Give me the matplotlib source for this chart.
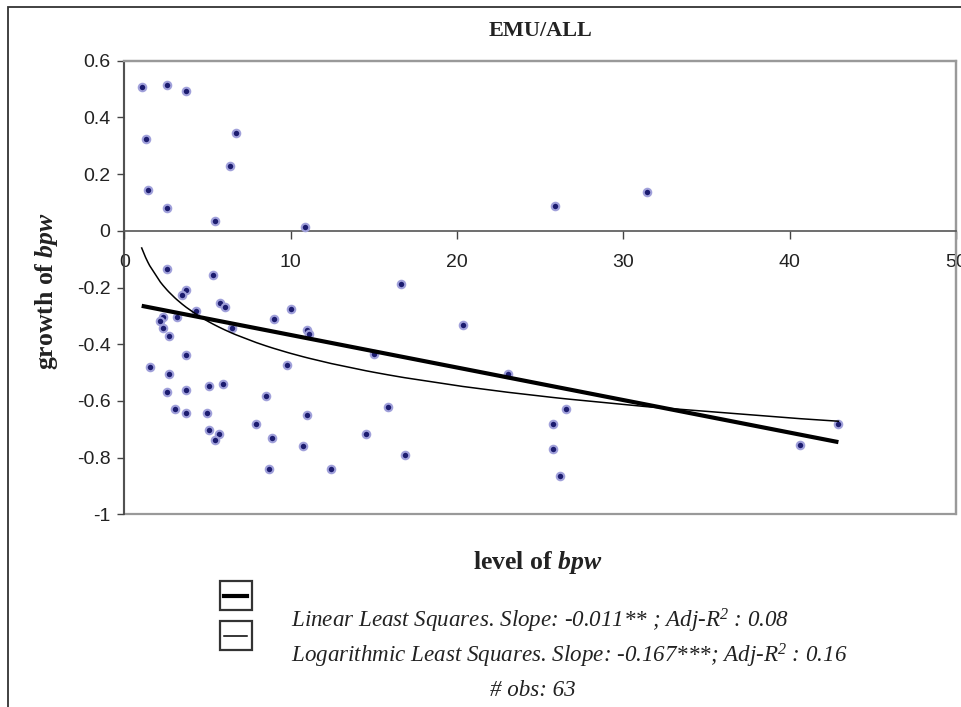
import numpy as np
import matplotlib
matplotlib.use("Agg")
import matplotlib.pyplot as plt
from matplotlib.patches import Rectangle
from matplotlib.lines import Line2D

plt.rcParams['font.family'] = ['Liberation Sans', 'DejaVu Sans']
plt.rcParams['mathtext.fontset'] = 'custom'
plt.rcParams['mathtext.it'] = 'Liberation Serif:italic:bold'
plt.rcParams['mathtext.rm'] = 'Liberation Serif:italic'

# level of bpw (x) and growth of bpw (y)
level = [1.04, 2.56, 3.72, 1.27, 6.71, 6.37, 1.41, 2.56, 5.45, 10.86, 25.86, 31.4,
         2.56, 5.32, 3.72, 3.46, 5.77, 6.03, 4.30, 10.04, 2.32, 2.16, 3.14, 8.98,
         2.32, 6.49, 10.96, 11.1, 2.66, 3.72, 15.01, 1.52, 9.80, 2.66, 5.08, 5.91,
         2.56, 3.72, 8.51, 3.02, 3.72, 4.98, 10.96, 7.93, 14.53, 5.08, 5.67, 5.45,
         8.89, 10.72, 8.68, 12.44, 16.62, 20.33, 23.06, 15.84, 16.86, 26.56, 25.74,
         25.74, 26.2, 40.62, 42.93]
growth = [0.508, 0.514, 0.494, 0.325, 0.345, 0.230, 0.143, 0.082, 0.034, 0.013, 0.088, 0.136,
          -0.135, -0.155, -0.208, -0.228, -0.256, -0.270, -0.283, -0.277, -0.304, -0.317, -0.305, -0.310,
          -0.344, -0.344, -0.351, -0.365, -0.371, -0.439, -0.434, -0.480, -0.474, -0.506, -0.548, -0.541,
          -0.569, -0.562, -0.582, -0.629, -0.643, -0.642, -0.649, -0.683, -0.717, -0.704, -0.717, -0.738,
          -0.731, -0.758, -0.839, -0.839, -0.189, -0.331, -0.506, -0.622, -0.791, -0.629, -0.683,
          -0.771, -0.865, -0.757, -0.683]

title = "EMU/ALL"
legend_lines = ["Linear Least Squares. Slope: -0.011** ; Adj-R$^{2}$ : 0.08",
                "Logarithmic Least Squares. Slope: -0.167***; Adj-R$^{2}$ : 0.16"]
obs_text = "# obs: 63"

W, H = 961, 707
fig = plt.figure(figsize=(W / 100, H / 100), dpi=100)


def fx(px):
    return px / W


def fy(py):
    return 1 - py / H


# outer chart border (runs off the right and bottom of the picture)
fig.add_artist(Rectangle((fx(8), fy(760)), fx(1000), fy(7) - fy(760), transform=fig.transFigure,
                         fill=False, edgecolor='#333333', linewidth=1.3))

ax = fig.add_axes([fx(124.4), fy(514.3), fx(956) - fx(124.4), fy(60.8) - fy(514.3)])
ax.set_xlim(0, 50)
ax.set_ylim(-1, 0.6)

x = np.array(level)
y = np.array(growth)

ax.plot(x, y, linestyle='none', marker='o', ms=5.4, mfc='#1c1c70', mec='#a0a0da', mew=1.5, zorder=3)

# least squares fits
b1, a1 = np.polyfit(x, y, 1)
b2, a2 = np.polyfit(np.log(x), y, 1)
xs = np.sort(np.unique(x))
ax.plot([xs[0], xs[-1]], [a1 + b1 * xs[0], a1 + b1 * xs[-1]], color='black', lw=3.0,
        solid_capstyle='butt', zorder=4)
ax.plot(xs, a2 + b2 * np.log(xs), color='black', lw=1.1, zorder=4)

# plot area frame
for s in ['top', 'right']:
    ax.spines[s].set_color('#999999')
    ax.spines[s].set_linewidth(1.6)
ax.add_patch(Rectangle((0, 0), 1, 1, transform=ax.transAxes, fill=False,
                       edgecolor='#999999', linewidth=1.6, zorder=0, clip_on=False))
ax.spines['left'].set_color('#444444')
ax.spines['left'].set_linewidth(1.2)
ax.spines['bottom'].set_position(('data', 0))
ax.spines['bottom'].set_color('#555555')
ax.spines['bottom'].set_linewidth(1.2)

ax.set_xticks([0, 10, 20, 30, 40, 50])
ax.set_xticklabels(['0', '10', '20', '30', '40', '50'])
ax.set_yticks([-1, -0.8, -0.6, -0.4, -0.2, 0, 0.2, 0.4, 0.6])
ax.set_yticklabels(['-1', '-0.8', '-0.6', '-0.4', '-0.2', '0', '0.2', '0.4', '0.6'])
ax.tick_params(axis='x', direction='out', length=6, width=1, color='#444444', pad=11,
               labelsize=14, labelcolor='#222222')
ax.tick_params(axis='y', direction='out', length=5, width=1, color='#444444', pad=5,
               labelsize=14, labelcolor='#222222')

ax.set_title(title, fontsize=16, fontweight='bold', family='Liberation Serif', pad=18, color='#222222')
fig.text(fx(538), fy(563), "level of $bpw$", fontsize=18.5, fontweight='bold', family='Liberation Serif',
         ha='center', va='center', color='#222222')
fig.text(fx(47), fy(291), "growth of $bpw$", fontsize=18.5, fontweight='bold', family='Liberation Serif',
         ha='center', va='center', rotation=90, color='#222222')

# legend boxes
for (top, lw) in [(581, 3.0), (621, 1.1)]:
    fig.add_artist(Rectangle((fx(219.5), fy(top + 29)), fx(32), fy(top) - fy(top + 29),
                             transform=fig.transFigure, fill=False, edgecolor='#333333', linewidth=1.6))
    fig.add_artist(Line2D([fx(224), fx(247)], [fy(top + 14.5), fy(top + 14.5)],
                          transform=fig.transFigure, color='black', lw=lw))

fig.text(fx(291), fy(621), legend_lines[0], fontsize=16.6, style='italic', family='Liberation Serif',
         ha='left', va='center', color='#222222')
fig.text(fx(291), fy(656), legend_lines[1], fontsize=16.6, style='italic', family='Liberation Serif',
         ha='left', va='center', color='#222222')
fig.text(fx(533), fy(690), obs_text, fontsize=16.6, style='italic', family='Liberation Serif',
         ha='center', va='center', color='#222222')

fig.savefig("out.png", dpi=100)
